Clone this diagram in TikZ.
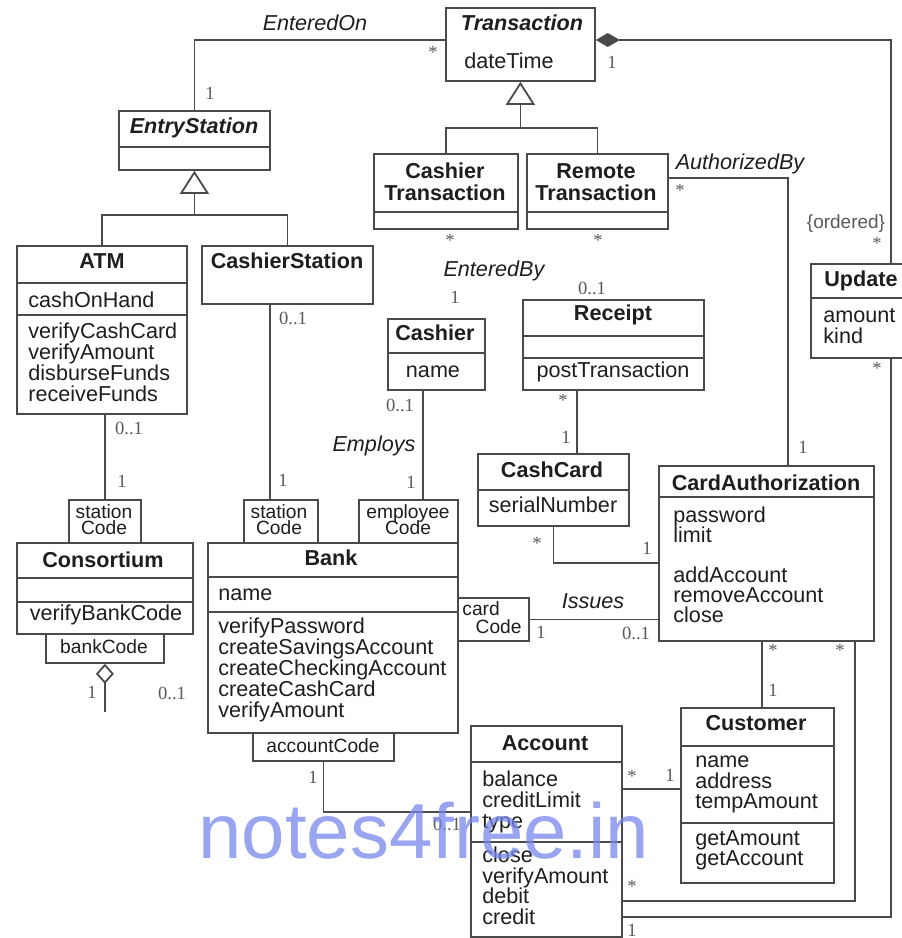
\documentclass[tikz,border=0pt]{standalone}
\usepackage{fontspec}
\setmainfont{Liberation Sans}
\newfontfamily\multfont{Liberation Serif}
\usetikzlibrary{arrows.meta, positioning}
\definecolor{linec}{HTML}{4A4A4A}
\definecolor{txtc}{HTML}{1E1E1E}
\definecolor{multc}{HTML}{5A5A5A}
\definecolor{markc}{RGB}{120,135,235}
\newcommand{\ctext}{\fontsize{10.8}{10.5}\selectfont}
\newcommand{\qtext}{\fontsize{9.6}{8}\selectfont}

\tikzset{
  cls/.style={draw=linec, line width=0.9pt, inner sep=0pt, anchor=north west},
  link/.style={draw=linec, line width=0.9pt},
  gen/.style={link, -{Triangle[open, length=11.5pt, width=14.5pt]}},
  cname/.style={font=\ctext\bfseries, text=txtc, anchor=base, inner sep=0pt},
  attr/.style={font=\ctext, text=txtc, anchor=base west, inner sep=0pt},
  qtxt/.style={font=\qtext, text=txtc, anchor=base, inner sep=0pt},
  assoc/.style={font=\ctext\itshape, text=txtc, anchor=base, inner sep=0pt},
  mult/.style={font=\multfont\fontsize{9.3}{9.3}\selectfont, text=multc, inner sep=0pt},
}

\begin{document}
\begin{tikzpicture}[x=0.5pt, y=-0.5pt]
  \useasboundingbox (0,0) rectangle (901,938);
  \fill[white] (0,0) rectangle (901,938);

  % class boxes
  \node[cls, minimum width=74.5pt, minimum height=36.5pt] (trans) at (445,7) {};
  \node[cls, minimum width=75.5pt, minimum height=29.5pt] (entry) at (118,110) {};
  \node[cls, minimum width=72pt, minimum height=37.5pt] (cashtr) at (373,153) {};
  \node[cls, minimum width=70.5pt, minimum height=37.5pt] (remtr) at (526,153) {};
  \node[cls, minimum width=51pt, minimum height=47pt] (upd) at (810,263) {};
  \node[cls, minimum width=85pt, minimum height=84pt] (atm) at (16,245) {};
  \node[cls, minimum width=85.5pt, minimum height=29pt] (cstation) at (201,245) {};
  \node[cls, minimum width=48.5pt, minimum height=35.5pt] (cashier) at (387,318) {};
  \node[cls, minimum width=90.5pt, minimum height=45pt] (receipt) at (522,299) {};
  \node[cls, minimum width=75.5pt, minimum height=36pt] (cashcard) at (477,453) {};
  \node[cls, minimum width=107.5pt, minimum height=87.5pt] (cardauth) at (658,465) {};
  \node[cls, minimum width=88pt, minimum height=45.5pt] (consort) at (16,542) {};
  \node[cls, minimum width=125pt, minimum height=95pt] (bank) at (207,542) {};
  \node[cls, minimum width=75.5pt, minimum height=105.5pt] (account) at (470,725) {};
  \node[cls, minimum width=76.5pt, minimum height=87.5pt] (customer) at (680,707) {};

  % qualifiers
  \node[cls, minimum width=36pt, minimum height=21.5pt] (qA) at (68,499) {};
  \node[cls, minimum width=59pt, minimum height=14.5pt] (qC) at (45,633) {};
  \node[cls, minimum width=37pt, minimum height=21.5pt] (qB1) at (243,499) {};
  \node[cls, minimum width=49.5pt, minimum height=21.5pt] (qB2) at (358,499) {};
  \node[cls, minimum width=35.5pt, minimum height=21.5pt] (qB3) at (457,597) {};
  \node[cls, minimum width=70.5pt, minimum height=14pt] (qB4) at (252,732) {};

  % compartments
  \foreach \n/\y in {entry/147, cashtr/212, remtr/212, upd/298, atm/283, atm/315,
      cashier/353, receipt/336, receipt/358, cashcard/490, cardauth/497,
      consort/578, consort/602, bank/577, bank/612, account/762, account/842,
      customer/746, customer/823}
    \draw[link] (\n.west |- 0,\y) -- (\n.east |- 0,\y);

  % class names and members
  \node[cname, font=\ctext\bfseries\itshape] (transname) at (522,30) {Transaction};
  \node[attr] (transattr) at (464,68) {dateTime};
  \node[cname, font=\ctext\bfseries\itshape] (entryname) at (194,133) {EntryStation};
  \node[cname] (cashtrname) at (445,178) {Cashier};
  \node[cname] (cashtrname2) at (445,200) {Transaction};
  \node[cname] (remtrname) at (596,178) {Remote};
  \node[cname] (remtrname2) at (596,200) {Transaction};
  \node[cname] (updname) at (861,286) {Update};
  \node[attr] (updattr) at (823,322) {amount};
  \node[attr] (updattr2) at (823,343) {kind};
  \node[cname] (atmname) at (102,268) {ATM};
  \node[attr] (atmattr) at (28,307) {cashOnHand};
  \foreach \t [count=\i from 0] in {verifyCashCard, verifyAmount, disburseFunds, receiveFunds}
    \node[attr] (atmop\i) at (28, 338+21*\i) {\t};
  \node[cname] (csname) at (287,268) {CashierStation};
  \node[cname] (cashiername) at (435,340) {Cashier};
  \node[cname, font=\ctext] (cashierattr) at (433,377) {name};
  \node[cname] (receiptname) at (613,320) {Receipt};
  \node[cname, font=\ctext] (receiptop) at (613,377) {postTransaction};
  \node[cname] (ccname) at (552,477) {CashCard};
  \node[cname, font=\ctext] (ccattr) at (553,512) {serialNumber};
  \node[cname] (caname) at (766,490) {CardAuthorization};
  \foreach \t/\y in {password/522, limit/542, addAccount/582, removeAccount/602, close/622}
    \node[attr] (ca-\t) at (673,\y) {\t};
  \node[cname] (consname) at (103,567) {Consortium};
  \node[cname, font=\ctext] (consop) at (106,620) {verifyBankCode};
  \node[cname] (bankname) at (331,565) {Bank};
  \node[attr] (bankattr) at (218,600) {name};
  \foreach \t [count=\i from 0] in {verifyPassword, createSavingsAccount,
      createCheckingAccount, createCashCard, verifyAmount}
    \node[attr] (bankop\i) at (218, 633+21*\i) {\t};
  \node[cname] (accname) at (545,750) {Account};
  \foreach \t/\y in {balance/786, creditLimit/807, type/828, close/862,
      verifyAmount/883, debit/903, credit/924}
    \node[attr] (acc-\t) at (482,\y) {\t};
  \node[cname] (custname) at (756,730) {Customer};
  \foreach \t/\y in {name/767, address/788, tempAmount/808, getAmount/845, getAccount/865}
    \node[attr] (cust-\t) at (695,\y) {\t};

  % qualifier texts
  \node[qtxt] (qAt) at (104,518) {station};
  \node[qtxt] (qAt2) at (104,534) {Code};
  \node[qtxt] (qCt) at (104,653) {bankCode};
  \node[qtxt] (qB1t) at (279,518) {station};
  \node[qtxt] (qB1t2) at (279,534) {Code};
  \node[qtxt] (qB2t) at (408,518) {employee};
  \node[qtxt] (qB2t2) at (408,534) {Code};
  \node[qtxt, anchor=base west] (qB3t) at (462,615) {card};
  \node[qtxt, anchor=base east] (qB3t2) at (522,633) {Code};
  \node[qtxt] (qB4t) at (323,752) {accountCode};

  % generalizations
  \draw[link] (cashtr.north) |- (trans.south |- 0,128) -| (remtr.north);
  \draw[gen] (trans.south |- 0,128) -- (trans.south);
  \draw[link] (atm.north) |- (entry.south |- 0,215) -| (cstation.north);
  \draw[gen] (entry.south |- 0,215) -- (entry.south);

  % associations
  \draw[link] (trans.west |- 0,40) -| (entry.north);
  \draw[link, {Diamond[length=12pt, width=7pt]}-] (trans.east |- 0,40) -| ([xshift=14.5pt]upd.north);
  \draw[link] ([xshift=14.5pt]upd.south) |- (account.east |- 0,917);
  \draw[link] (remtr.east |- 0,178) -| ([xshift=10.75pt]cardauth.north);
  \draw[link] (atm.south -| qA.north) -- (qA.north);
  \draw[link] (cstation.south -| 270,0) -- (qB1.north -| 270,0);
  \draw[link] (cashier.south -| 423,0) -- (qB2.north -| 423,0);
  \draw[link] (receipt.south -| 577,0) -- (cashcard.north -| 577,0);
  \draw[link] (cashcard.south) |- (cardauth.west |- 0,563);
  \draw[link] (qB3.east) -- (cardauth.west |- qB3.east);
  \draw[link] (qB4.south) |- (account.west |- 0,812);
  \draw[link] (account.east |- 0,789) -- (customer.west |- 0,789);
  \draw[link] (cardauth.south -| 762,0) -- (customer.north -| 762,0);
  \draw[link] (cardauth.south -| 855,0) |- (account.east |- 0,901);
  \draw[link, {Diamond[open, length=10pt, width=9pt]}-] (qC.south) -- ++(0,48) coordinate (aggend);

  % association names
  \node[assoc] (enteredon) at (315,30) {EnteredOn};
  \node[assoc] (authby) at (740,169) {AuthorizedBy};
  \node[assoc] (enteredby) at (494,276) {EnteredBy};
  \node[assoc] (employs) at (374,451) {Employs};
  \node[assoc] (issues) at (593,608) {Issues};
  \node[font=\fontsize{9.5}{9.5}\selectfont, text=multc, anchor=base, inner sep=0pt] (ordered) at (846,228) {\{ordered\}};

  % multiplicities
  \foreach \x/\y/\m [count=\k] in {433/52/*, 210/93/1, 612/62/1, 877/243/*, 877/368/*,
      680/190/*, 803/447/1, 450/240/*, 598/240/*, 455/297/1, 592/288/0..1,
      293/318/0..1, 283/480/1, 129/428/0..1, 122/481/1, 400/405/0..1, 411/482/1,
      563/400/*, 566/437/1, 537/543/*, 647/548/1, 541/632/1, 636/633/0..1,
      92/692/1, 172/693/0..1, 313/777/1, 447/824/0..1, 632/776/*, 670/775/1,
      773/650/*, 773/690/1, 840/650/*, 632/886/*, 632/930/1}
    \node[mult] (mult\k) at (\x,\y) {\m};

  % watermark
  \node[font=\fontsize{39}{39}\selectfont, text=markc, opacity=0.75, anchor=base west, inner sep=0pt] (mark) at (198,858) {notes4free.in};
\end{tikzpicture}
\end{document}
